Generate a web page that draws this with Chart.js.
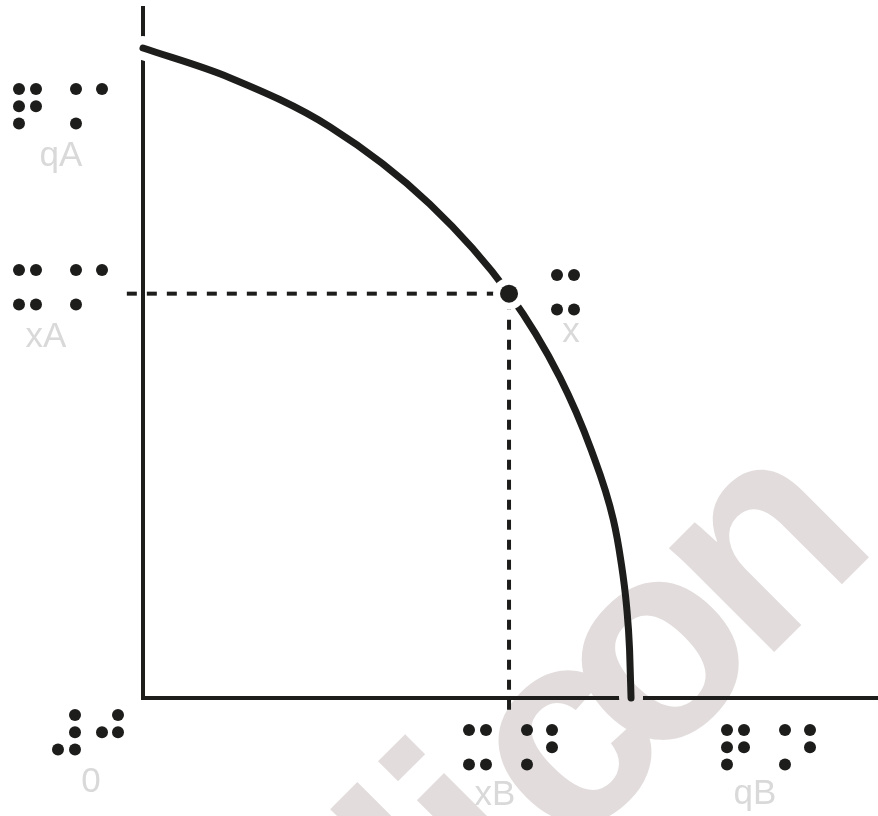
<!DOCTYPE html>
<html>
<head>
<meta charset="utf-8">
<script src="https://cdn.jsdelivr.net/npm/chart.js@4.4.1/dist/chart.umd.min.js"></script>
<style>
  html, body { margin: 0; padding: 0; background: #fff; }
  canvas { display: block; }
</style>
</head>
<body>
<canvas id="myChart" width="878" height="816"></canvas>
<script>
// frontier (x = good B, y = good A)
const curveX = [0, 11.8, 25.4, 39.0, 49.8, 56.7, 61.0, 64.0, 65.0, 65.8, 66.2, 66.4];
const curveY = [94.2, 89.9, 82.8, 71.6, 58.6, 46.5, 35.9, 25.8, 20.0, 13.2, 7.0, 0];
// the marked point x on the frontier
const pointX = 49.8;
const pointY = 58.6;
// the dashed guides run a little past the axes
const guideStartX = -2.2;
const guideEndY = -1.7;

const axisLabels = ['qA', 'xA', 'x', '0', 'xB', 'qB'];
const brailleLabels = ['⠟⠍', '⠭⠍', '⠭', '⠼⠚', '⠭⠝', '⠟⠝'];
const watermark = ['d', 'i', 'c', 'o', 'n'];

const ink = '#1d1d1b';

// datasets flagged with erase punch a hole (white gap) instead of painting
const eraser = {
  id: 'eraser',
  beforeDatasetDraw(chart, args) {
    if (chart.data.datasets[args.index].erase) {
      chart.ctx.save();
      chart.ctx.globalCompositeOperation = 'destination-out';
    }
  },
  afterDatasetDraw(chart, args) {
    if (chart.data.datasets[args.index].erase) chart.ctx.restore();
  }
};

// braille dot columns and top row, print label centre and baseline
const labelPos = [
  { cols: [19, 36, 76, 102], top: 89, tx: 61, ty: 166 },
  { cols: [19, 36, 76, 102], top: 270, tx: 46, ty: 347 },
  { cols: [557, 574], top: 275, tx: 571, ty: 342 },
  { cols: [58, 75, 102, 118], top: 715, tx: 91, ty: 792 },
  { cols: [469, 486, 527, 552], top: 730, tx: 495, ty: 805 },
  { cols: [727, 744, 785, 810], top: 730, tx: 755, ty: 804 }
];

// unicode braille: bit n set = dot n+1 raised (dots 1-3 left column, 4-6 right)
function drawBraille(ctx, str, cols, top) {
  Array.from(str).forEach((ch, c) => {
    const bits = ch.codePointAt(0) - 0x2800;
    for (let d = 0; d < 6; d++) {
      if (!(bits & (1 << d))) continue;
      ctx.beginPath();
      ctx.arc(cols[c * 2 + (d < 3 ? 0 : 1)], top + (d % 3) * 17.3, 6, 0, Math.PI * 2);
      ctx.fill();
    }
  });
}

const labels = {
  id: 'labels',
  afterDraw(chart) {
    const ctx = chart.ctx;
    ctx.save();

    // watermark goes behind everything already drawn
    ctx.globalCompositeOperation = 'destination-over';
    ctx.translate(661, 662);
    ctx.rotate(-Math.PI / 4);
    ctx.font = 'bold 280px "Liberation Sans"';
    ctx.fillStyle = '#e2dddc';
    const along = [-280, -251, -124, 0, 153];
    watermark.forEach((ch, i) => {
      ctx.textAlign = i === 0 ? 'right' : 'center';
      ctx.fillText(ch, along[i], 73);
    });
    ctx.setTransform(1, 0, 0, 1, 0, 0);
    ctx.globalCompositeOperation = 'source-over';

    ctx.fillStyle = ink;
    brailleLabels.forEach((b, i) => drawBraille(ctx, b, labelPos[i].cols, labelPos[i].top));

    ctx.font = '35px "Liberation Sans"';
    ctx.fillStyle = '#d9d9d9';
    ctx.textAlign = 'center';
    ctx.textBaseline = 'alphabetic';
    axisLabels.forEach((t, i) => {
      ctx.fillText(t, labelPos[i].tx, labelPos[i].ty);
    });
    ctx.restore();
  }
};

const frontier = curveX.map((x, i) => ({ x: x, y: curveY[i] }));

const axis = {
  type: 'linear',
  min: 0,
  max: 100,
  grid: { display: false, drawTicks: false },
  ticks: { display: false },
  border: { display: true, color: ink, width: 4 }
};

new Chart(document.getElementById('myChart'), {
  type: 'line',
  data: {
    datasets: [
      { // the point x
        data: [{ x: pointX, y: pointY }],
        showLine: false,
        pointRadius: 9,
        pointBorderWidth: 0,
        pointBackgroundColor: ink,
        order: 0
      },
      { // white ring round the point
        data: [{ x: pointX, y: pointY }],
        erase: true,
        showLine: false,
        pointRadius: 16,
        pointBorderWidth: 0,
        pointBackgroundColor: '#000',
        order: 1
      },
      { // frontier
        data: frontier,
        borderColor: ink,
        borderWidth: 7,
        borderCapStyle: 'round',
        cubicInterpolationMode: 'monotone',
        pointRadius: 0,
        clip: false,
        order: 2
      },
      { // dashed guide to the A axis
        data: [{ x: guideStartX, y: pointY }, { x: pointX, y: pointY }],
        borderColor: ink,
        borderWidth: 4,
        borderDash: [10, 10],
        pointRadius: 0,
        clip: false,
        order: 3
      },
      { // dashed guide to the B axis
        data: [{ x: pointX, y: guideEndY }, { x: pointX, y: pointY }],
        borderColor: ink,
        borderWidth: 4,
        borderDash: [10, 10],
        pointRadius: 0,
        clip: false,
        order: 3
      },
      { // gap in the axes where the frontier meets them
        data: frontier,
        erase: true,
        borderColor: '#000',
        borderWidth: 24,
        borderCapStyle: 'round',
        cubicInterpolationMode: 'monotone',
        pointRadius: 0,
        clip: false,
        order: 4
      }
    ]
  },
  options: {
    responsive: false,
    animation: false,
    events: [],
    layout: { autoPadding: false, padding: { left: 143, right: 0, top: 8, bottom: 118 } },
    plugins: {
      legend: { display: false },
      tooltip: { enabled: false }
    },
    scales: { x: axis, y: axis }
  },
  plugins: [eraser, labels]
});
</script>
</body>
</html>
